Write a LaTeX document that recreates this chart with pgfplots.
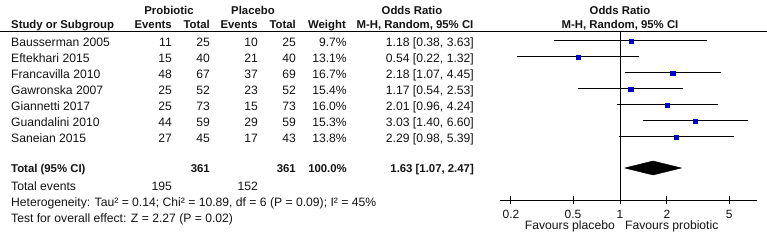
\documentclass[border=0pt]{standalone}
\usepackage{fontspec}
\setmainfont{Liberation Sans}
\usepackage{pgfplots}
\pgfplotsset{compat=1.18}
\definecolor{sqblue}{RGB}{0,0,204}
\definecolor{txt}{RGB}{20,20,20}
\newcommand\hb{\fontsize{11.4}{13}\selectfont\bfseries}
\begin{document}
\begin{tikzpicture}
\fill[white] (0,0) rectangle (767bp,240bp);
\begin{axis}[
  at={(500bp,40bp)}, anchor=south west,
  scale only axis, width=257bp, height=168bp,
  xmode=log, xmin=0.1702, xmax=7.55,
  ymin=-200, ymax=-32,
  axis x line*=bottom, axis y line=none,
  x axis line style={-, line width=1bp},
  xtick={0.2,0.5,1,2,5}, xticklabels={0.2,0.5,1,2,5},
  tick align=center, major tick length=7bp,
  tick style={black, line width=1bp},
  xticklabel style={font=\fontsize{12}{14}\selectfont, text=txt, anchor=base, inner sep=0pt, yshift=-15bp},
  /pgf/number format/assume math mode=true,
  clip=false,
]
% line of no effect
\addplot[black, line width=1bp] coordinates {(1,-32) (1,-200)};
% confidence intervals
\addplot[black, line width=1bp] coordinates {(0.38,-41) (3.63,-41)};
\addplot[black, line width=1bp] coordinates {(0.22,-57) (1.32,-57)};
\addplot[black, line width=1bp] coordinates {(1.07,-73) (4.45,-73)};
\addplot[black, line width=1bp] coordinates {(0.54,-89) (2.53,-89)};
\addplot[black, line width=1bp] coordinates {(0.96,-105) (4.24,-105)};
\addplot[black, line width=1bp] coordinates {(1.40,-121) (6.60,-121)};
\addplot[black, line width=1bp] coordinates {(0.98,-137) (5.39,-137)};
% point estimates (square size ~ weight)
\addplot[only marks, mark=square*, sqblue, mark size=1.71bp] coordinates {(1.18,-41)};
\addplot[only marks, mark=square*, sqblue, mark size=1.99bp] coordinates {(0.54,-57)};
\addplot[only marks, mark=square*, sqblue, mark size=2.25bp] coordinates {(2.18,-73)};
\addplot[only marks, mark=square*, sqblue, mark size=2.16bp] coordinates {(1.17,-89)};
\addplot[only marks, mark=square*, sqblue, mark size=2.20bp] coordinates {(2.01,-105)};
\addplot[only marks, mark=square*, sqblue, mark size=2.15bp] coordinates {(3.03,-121)};
\addplot[only marks, mark=square*, sqblue, mark size=2.04bp] coordinates {(2.29,-137)};
% pooled diamond
\addplot[fill=black, draw=black] coordinates {(1.07,-168) (1.63,-161) (2.47,-168) (1.63,-175) (1.07,-168)};
\end{axis}
\begin{scope}[x=1bp, y=-1bp, yshift=240bp,
  every node/.style={inner sep=0pt, text=txt, font=\fontsize{12.2}{14}\selectfont}]
\draw[line width=1bp] (0,32) -- (767,32);
% headers
\node[anchor=base, font=\hb] at (169,15) {Probiotic};
\node[anchor=base, font=\hb] at (253,15) {Placebo};
\node[anchor=base, font=\hb] at (412,15) {Odds Ratio};
\node[anchor=base, font=\hb] at (620,15) {Odds Ratio};
\node[anchor=base west, font=\hb] at (11,29) {Study or Subgroup};
\node[anchor=base east, font=\hb] at (172,29) {Events};
\node[anchor=base east, font=\hb] at (210,29) {Total};
\node[anchor=base east, font=\hb] at (258,29) {Events};
\node[anchor=base east, font=\hb] at (296,29) {Total};
\node[anchor=base east, font=\hb] at (346,29) {Weight};
\node[anchor=base, font=\hb] at (415,29) {M-H, Random, 95\% CI};
\node[anchor=base, font=\hb] at (620,29) {M-H, Random, 95\% CI};
% study rows
\foreach \y/\s/\a/\b/\c/\d/\w/\o in {
 46.5/Bausserman 2005/11/25/10/25/9.7\%/{1.18 [0.38, 3.63]},
 62.5/Eftekhari 2015/15/40/21/40/13.1\%/{0.54 [0.22, 1.32]},
 78.5/Francavilla 2010/48/67/37/69/16.7\%/{2.18 [1.07, 4.45]},
 94.5/Gawronska 2007/25/52/23/52/15.4\%/{1.17 [0.54, 2.53]},
 110.5/Giannetti 2017/25/73/15/73/16.0\%/{2.01 [0.96, 4.24]},
 126.5/Guandalini 2010/44/59/29/59/15.3\%/{3.03 [1.40, 6.60]},
 142.5/Saneian 2015/27/45/17/43/13.8\%/{2.29 [0.98, 5.39]}}{
 \node[anchor=base west] at (11,\y) {\s};
 \node[anchor=base east] at (172,\y) {\a};
 \node[anchor=base east] at (210,\y) {\b};
 \node[anchor=base east] at (258,\y) {\c};
 \node[anchor=base east] at (296,\y) {\d};
 \node[anchor=base east] at (347,\y) {\w};
 \node[anchor=base east] at (474,\y) {\o};
}
% totals
\node[anchor=base west, font=\hb] at (11,173) {Total (95\% CI)};
\node[anchor=base east, font=\hb] at (210,173) {361};
\node[anchor=base east, font=\hb] at (296,173) {361};
\node[anchor=base east, font=\hb] at (347,173) {100.0\%};
\node[anchor=base east, font=\hb] at (474,173) {1.63 [1.07, 2.47]};
\node[anchor=base west] at (11,191) {Total events};
\node[anchor=base east] at (172,191) {195};
\node[anchor=base east] at (258,191) {152};
\node[anchor=base west] at (11,206.5) {Heterogeneity: Tau² = 0.14; Chi² = 10.89, df = 6 (P = 0.09); I² = 45\%};
\node[anchor=base west] at (11,222.5) {Test for overall effect: Z = 2.27 (P = 0.02)};
\node[anchor=base east] at (615,230) {Favours placebo};
\node[anchor=base west] at (625,230) {Favours probiotic};
\end{scope}
\pgfresetboundingbox
\useasboundingbox (0,0) rectangle (767bp,240bp);
\end{tikzpicture}
\end{document}
